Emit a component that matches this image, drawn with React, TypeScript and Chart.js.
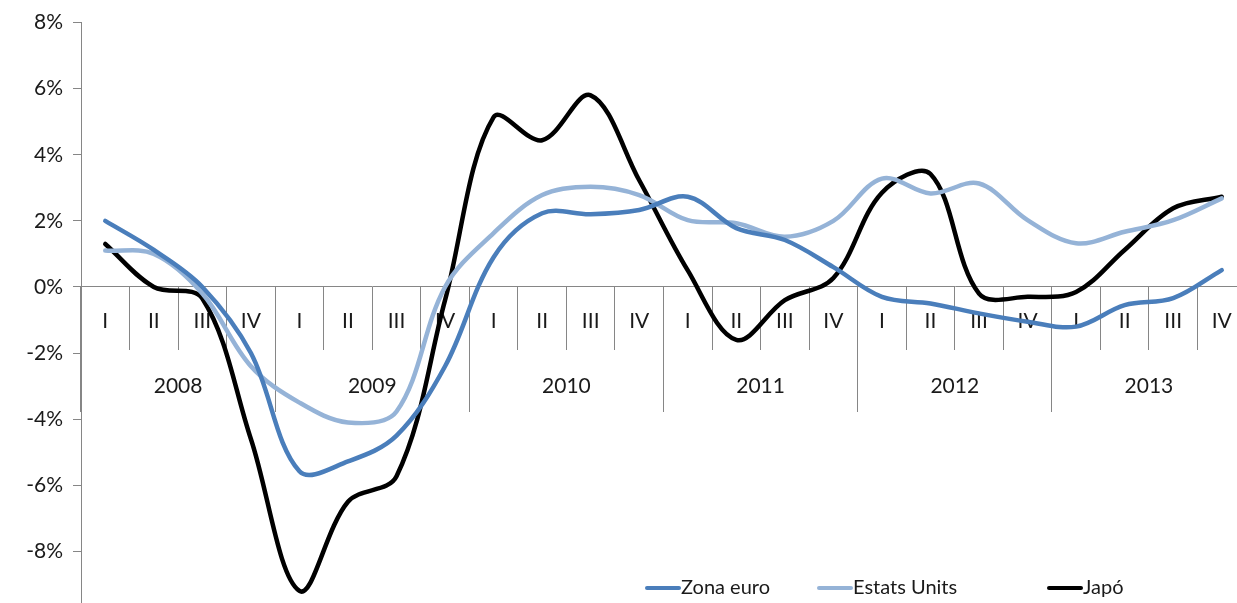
import React, { useEffect, useRef } from "react";
import { Chart, registerables } from "chart.js";

Chart.register(...registerables);

const quarters = [
  "I", "II", "III", "IV", "I", "II", "III", "IV", "I", "II", "III", "IV",
  "I", "II", "III", "IV", "I", "II", "III", "IV", "I", "II", "III", "IV",
];
const years = ["2008", "2009", "2010", "2011", "2012", "2013"];

const zonaEuro = [
  2.0, 1.12, 0.0, -2.0, -5.58, -5.28, -4.5, -2.4, 0.9, 2.23, 2.2, 2.33,
  2.73, 1.78, 1.42, 0.6, -0.3, -0.5, -0.8, -1.05, -1.2, -0.55, -0.34, 0.51,
];
const estatsUnits = [
  1.1, 1.0, -0.2, -2.4, -3.5, -4.1, -3.77, 0.0, 1.63, 2.78, 3.03, 2.78,
  2.02, 1.93, 1.52, 2.0, 3.28, 2.83, 3.13, 2.02, 1.32, 1.67, 2.02, 2.68,
];
const japo = [
  1.3, 0.0, -0.35, -4.6, -9.2, -6.5, -5.73, -0.4, 5.14, 4.44, 5.8, 3.23,
  0.5, -1.6, -0.4, 0.27, 2.85, 3.42, -0.2, -0.3, -0.15, 1.12, 2.38, 2.73,
];

const seriesNames = ["Zona euro", "Estats Units", "Japó"];
const seriesColors = ["#4A7EBB", "#95B3D7", "#000000"];

const FONT = "Lato, 'Open Sans', sans-serif";
const AXIS_COLOR = "#868686";
const TEXT_COLOR = "#1a1a1a";

const legendPlugin = {
  id: "customLegend",
  afterDatasetsDraw(chart: any) {
    const ctx = chart.ctx;
    const starts = [645, 817, 1047];
    const y = 588;
    ctx.save();
    ctx.font = `20px ${FONT}`;
    ctx.textBaseline = "middle";
    ctx.textAlign = "left";
    chart.data.datasets.forEach((ds: any, i: number) => {
      const x0 = starts[i];
      ctx.strokeStyle = ds.borderColor;
      ctx.lineWidth = 4;
      ctx.lineCap = "round";
      ctx.beginPath();
      ctx.moveTo(x0 + 2, y);
      ctx.lineTo(x0 + 34, y);
      ctx.stroke();
      ctx.fillStyle = TEXT_COLOR;
      ctx.fillText(ds.label, x0 + 36, y);
    });
    ctx.restore();
  },
};

export default function App() {
  const ref = useRef<HTMLCanvasElement | null>(null);

  useEffect(() => {
    if (!ref.current) return;
    const data = [zonaEuro, estatsUnits, japo];
    const chart = new Chart(ref.current, {
      type: "line",
      data: {
        labels: quarters,
        datasets: data.map((d, i) => ({
          label: seriesNames[i],
          data: d,
          borderColor: seriesColors[i],
          backgroundColor: seriesColors[i],
          borderWidth: 4.5,
          pointRadius: 0,
          tension: 0.35,
          borderCapStyle: "round" as const,
          borderJoinStyle: "round" as const,
          fill: false,
        })),
      },
      options: {
        responsive: false,
        animation: false,
        layout: { padding: { top: 22, right: 14, bottom: 22, left: 0 } },
        plugins: {
          legend: { display: false },
          tooltip: { enabled: false },
        },
        scales: {
          x: {
            type: "category",
            position: { y: 0 } as any,
            offset: true,
            grid: {
              offset: true,
              drawOnChartArea: false,
              drawTicks: true,
              tickLength: 63,
              color: AXIS_COLOR,
              lineWidth: 1,
            },
            border: { display: true, color: AXIS_COLOR, width: 1 },
            ticks: {
              autoSkip: false,
              maxRotation: 0,
              minRotation: 0,
              padding: -41,
              color: TEXT_COLOR,
              font: { family: FONT, size: 21 },
            },
          },
          x2: {
            type: "category",
            labels: years,
            position: { y: 0 } as any,
            offset: true,
            grid: {
              offset: true,
              drawOnChartArea: false,
              drawTicks: true,
              tickLength: 125,
              color: AXIS_COLOR,
              lineWidth: 1,
            },
            border: { display: false },
            ticks: {
              autoSkip: false,
              maxRotation: 0,
              minRotation: 0,
              padding: -38,
              color: TEXT_COLOR,
              font: { family: FONT, size: 21 },
            },
          },
          y: {
            min: -10,
            max: 8,
            afterFit: (s: any) => {
              s.width = 81;
            },
            grid: {
              drawOnChartArea: false,
              drawTicks: true,
              tickLength: 8,
              color: AXIS_COLOR,
            },
            border: { display: true, color: AXIS_COLOR, width: 1 },
            ticks: {
              stepSize: 2,
              padding: 10,
              color: TEXT_COLOR,
              font: { family: FONT, size: 21 },
              callback: (v: any) => `${v}%`,
            },
          },
        },
      },
      plugins: [legendPlugin],
    });
    return () => chart.destroy();
  }, []);

  return (
    <div
      style={{
        position: "fixed",
        left: 0,
        top: 0,
        width: 1237,
        height: 603,
        overflow: "hidden",
        background: "#fff",
      }}
    >
      <canvas ref={ref} width={1260} height={640} style={{ display: "block" }} />
    </div>
  );
}
